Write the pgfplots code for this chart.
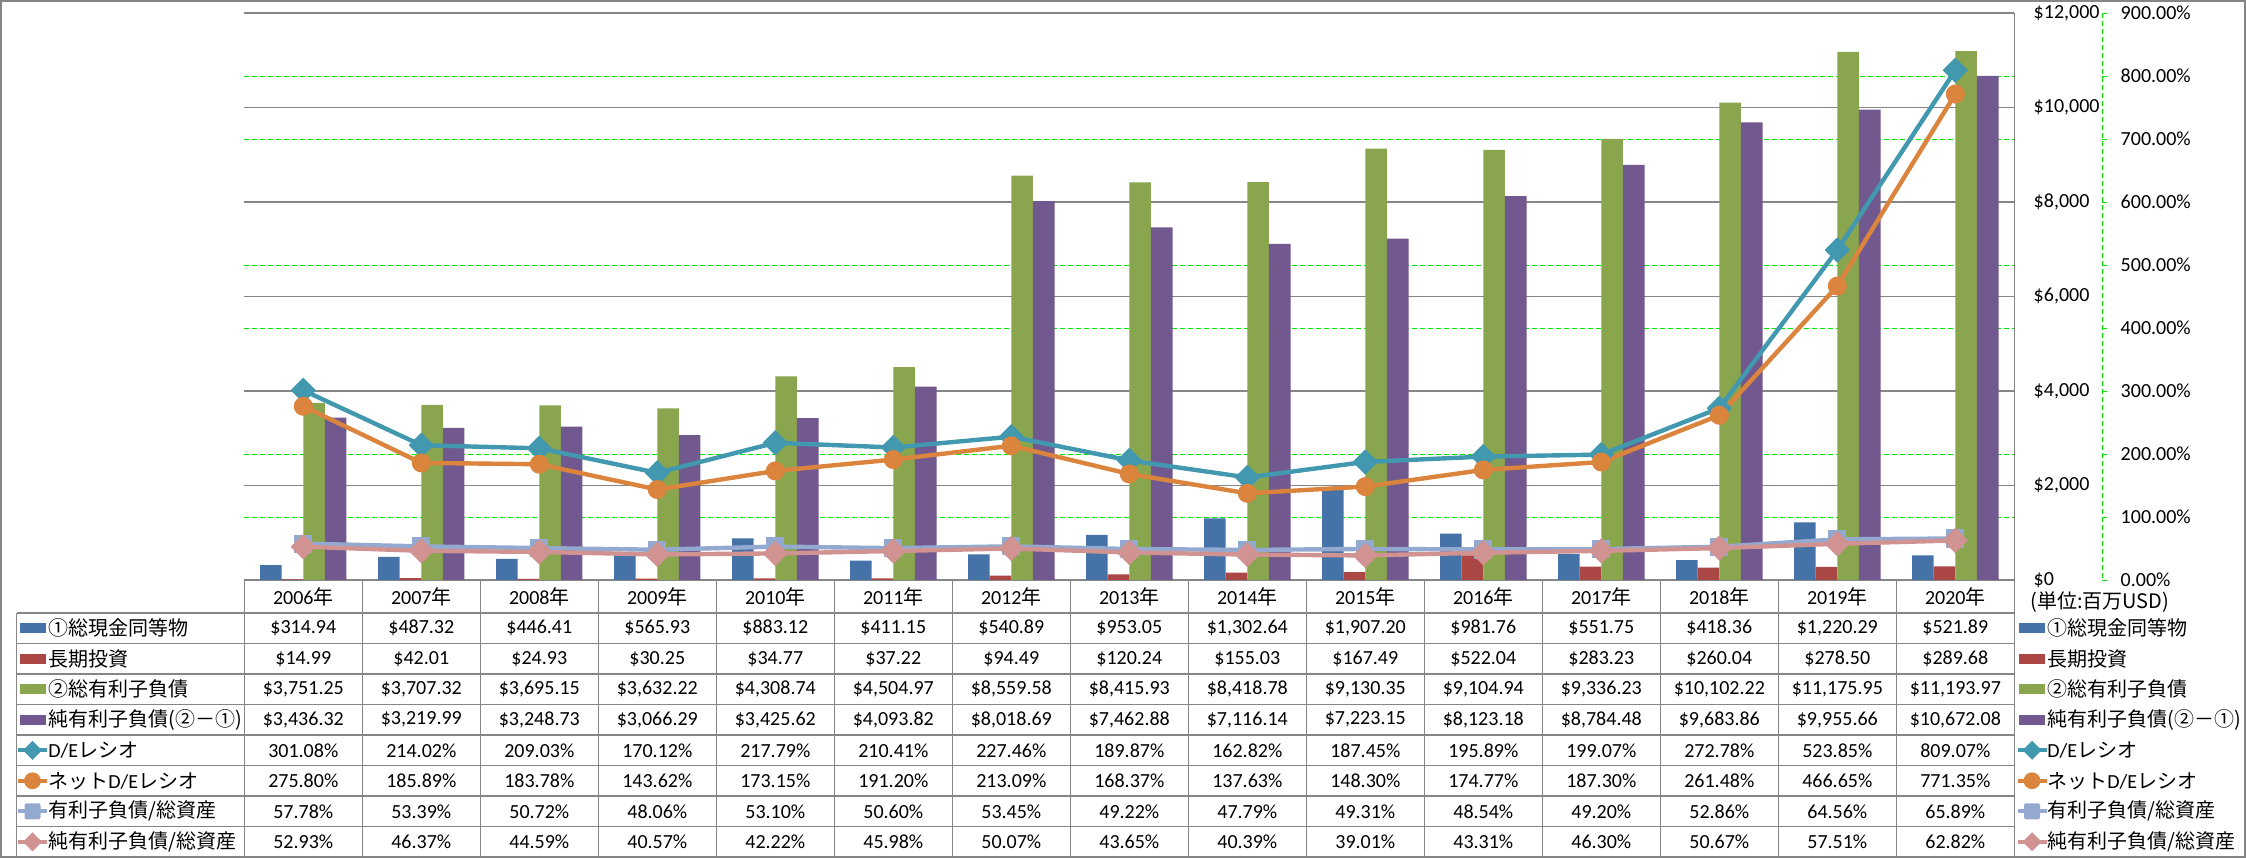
\documentclass[border=0pt]{standalone}
\usepackage{pgfplots}
\pgfplotsset{compat=1.18}
\usepackage{pgfplotstable}
\usepackage{fontspec}
\setmainfont{Carlito}
\newfontfamily\jp{Noto Sans CJK JP}

\definecolor{cBlue}{HTML}{4572A7}
\definecolor{cRed}{HTML}{AA4643}
\definecolor{cGreen}{HTML}{89A54E}
\definecolor{cPurple}{HTML}{71588F}
\definecolor{cTeal}{HTML}{4198AF}
\definecolor{cOrange}{HTML}{DB843D}
\definecolor{cLBlue}{HTML}{93A9CF}
\definecolor{cPink}{HTML}{D19392}
\definecolor{cGrid}{HTML}{868686}
\definecolor{cDash}{HTML}{00E600}

\pgfkeys{/pgf/number format/tbl/.style={fixed,fixed zerofill,precision=2,1000 sep={,},assume math mode=true}}

\pgfplotstableread{
x cash lti debt net de nde dta ndta
0 314.94 14.99 3751.25 3436.32 301.08 275.80 57.78 52.93
1 487.32 42.01 3707.32 3219.99 214.02 185.89 53.39 46.37
2 446.41 24.93 3695.15 3248.73 209.03 183.78 50.72 44.59
3 565.93 30.25 3632.22 3066.29 170.12 143.62 48.06 40.57
4 883.12 34.77 4308.74 3425.62 217.79 173.15 53.10 42.22
5 411.15 37.22 4504.97 4093.82 210.41 191.20 50.60 45.98
6 540.89 94.49 8559.58 8018.69 227.46 213.09 53.45 50.07
7 953.05 120.24 8415.93 7462.88 189.87 168.37 49.22 43.65
8 1302.64 155.03 8418.78 7116.14 162.82 137.63 47.79 40.39
9 1907.20 167.49 9130.35 7223.15 187.45 148.30 49.31 39.01
10 981.76 522.04 9104.94 8123.18 195.89 174.77 48.54 43.31
11 551.75 283.23 9336.23 8784.48 199.07 187.30 49.20 46.30
12 418.36 260.04 10102.22 9683.86 272.78 261.48 52.86 50.67
13 1220.29 278.50 11175.95 9955.66 523.85 466.65 64.56 57.51
14 521.89 289.68 11193.97 10672.08 809.07 771.35 65.89 62.82
}\datatable

% legend key macros (pixel units)
\newcommand{\keybar}[3]{\fill[#3] (#1,{#2-5}) rectangle ({#1+26},{#2+5});}
\newcommand{\keydia}[3]{\draw[#3, line width=2.2pt] ({#1-1},#2) -- ({#1+28},#2);
  \fill[#3] ({#1+13.5},#2) +(-9.5,0) -- +(0,-9.5) -- +(9.5,0) -- +(0,9.5) -- cycle;}
\newcommand{\keycirc}[3]{\draw[#3, line width=2.2pt] ({#1-1},#2) -- ({#1+28},#2);
  \fill[#3] ({#1+13.5},#2) circle[radius=4.2pt];}
\newcommand{\keysq}[3]{\draw[#3, line width=2.2pt] ({#1-1},#2) -- ({#1+28},#2);
  \fill[#3, rounded corners=1pt] ({#1+13.5-8},{#2-8}) rectangle ({#1+13.5+8},{#2+8});}

\begin{document}
\begin{tikzpicture}
\begin{scope}[x=0.5pt,y=-0.5pt]
\useasboundingbox (0,0) rectangle (2246,858);
\end{scope}

% ---------- bars (primary axis) ----------
\begin{axis}[
  at={(122.15pt,-290pt)}, anchor=south west,
  width=885pt, height=283.5pt, scale only axis,
  xmin=-0.5, xmax=14.5, ymin=0, ymax=12000,
  axis line style={draw=none},
  xtick=\empty,
  scaled y ticks=false,
  ytick={0,2000,4000,6000,8000,10000,12000},
  yticklabels={\$0,{\$2,000},{\$4,000},{\$6,000},{\$8,000},{\$10,000},{\$12,000}},
  yticklabel pos=right,
  yticklabel style={anchor=west, inner sep=0pt, xshift=9.5pt},
  major tick length=0pt,
  ymajorgrids,
  major grid style={cGrid, line width=0.6pt},
  extra y ticks={1333.333,2666.667,5333.333,6666.667,9333.333,10666.667},
  extra y tick labels={},
  extra y tick style={grid=major, major grid style={cDash, line width=0.5pt, dash pattern=on 2.5pt off 1.5pt}},
]
\addplot[ybar, bar width=0.183, bar shift=-0.2745, fill=cBlue, draw=none] table[x=x,y=cash]{\datatable};
\addplot[ybar, bar width=0.183, bar shift=-0.0915, fill=cRed, draw=none] table[x=x,y=lti]{\datatable};
\addplot[ybar, bar width=0.183, bar shift=0.0915, fill=cGreen, draw=none] table[x=x,y=debt]{\datatable};
\addplot[ybar, bar width=0.183, bar shift=0.2745, fill=cPurple, draw=none] table[x=x,y=net]{\datatable};
\end{axis}

% ---------- lines (secondary axis) ----------
\begin{axis}[
  at={(122.15pt,-290pt)}, anchor=south west,
  width=885pt, height=283.5pt, scale only axis,
  xmin=-0.5, xmax=14.5, ymin=0, ymax=900,
  axis line style={draw=none},
  xtick=\empty,
  scaled y ticks=false,
  ytick={0,100,...,900},
  yticklabels={0.00\%,100.00\%,200.00\%,300.00\%,400.00\%,500.00\%,600.00\%,700.00\%,800.00\%,900.00\%},
  yticklabel pos=right,
  yticklabel style={anchor=west, inner sep=0pt, xshift=53pt},
  major tick length=0pt,
  clip=false,
]
\addplot[cTeal, line width=2.2pt, line join=round, mark=square*, mark size=4.24pt,
  mark options={rotate=45, fill=cTeal, draw=cTeal, line width=0.5pt}] table[x=x,y=de]{\datatable};
\addplot[cOrange, line width=2.2pt, line join=round, mark=*, mark size=4.5pt,
  mark options={fill=cOrange, draw=cOrange, line width=0.5pt}] table[x=x,y=nde]{\datatable};
\addplot[cLBlue, line width=2.2pt, line join=round, mark=square*, mark size=4.3pt,
  mark options={fill=cLBlue, draw=cLBlue, line width=0.5pt}] table[x=x,y=dta]{\datatable};
\addplot[cPink, line width=2.2pt, line join=round, mark=square*, mark size=4.24pt,
  mark options={rotate=45, fill=cPink, draw=cPink, line width=0.5pt}] table[x=x,y=ndta]{\datatable};
\end{axis}

% ---------- table, legend, axis decorations (pixel units) ----------
\begin{scope}[x=0.5pt,y=-0.5pt]
% outer chart border
\draw[cGrid, line width=0.6pt] (1,1) rectangle (2245,857);
% right value axis line + last table column line
\draw[cGrid, line width=0.6pt] (2014.3,13) -- (2014.3,857);
% secondary axis line (green dashed) with ticks
\draw[cDash, line width=0.5pt, dash pattern=on 2.5pt off 1.5pt] (2102,13) -- (2102,580);
\foreach \k in {0,...,9} \draw[cDash, line width=0.5pt] (2102,{580-63*\k}) -- (2107,{580-63*\k});
% table lines
\draw[cGrid, line width=0.6pt] (244.3,580.7) -- (2014.3,580.7);
\foreach \i in {0,...,8} \draw[cGrid, line width=0.6pt] (16.7,{613+30.5*\i}) -- (2014.3,{613+30.5*\i});
\draw[cGrid, line width=0.6pt] (16.7,613) -- (16.7,857);
\foreach \k in {0,...,14} \draw[cGrid, line width=0.6pt] ({244.3+118*\k},580.7) -- ({244.3+118*\k},857);
% table cells
\foreach \c in {0,...,14}{
  \pgfmathsetmacro\cx{244.3+118*(\c+0.5)}
  \pgfmathtruncatemacro\yr{2006+\c}
  \node[inner sep=0pt] at (\cx,597) {\yr{\jp 年}};
  \foreach \col/\r in {cash/0,lti/1,debt/2,net/3}{
    \pgfplotstablegetelem{\c}{\col}\of\datatable
    \node[inner sep=0pt] at (\cx,{628.25+30.5*\r}) {\$\pgfmathprintnumber[tbl]{\pgfplotsretval}};
  }
  \foreach \col/\r in {de/4,nde/5,dta/6,ndta/7}{
    \pgfplotstablegetelem{\c}{\col}\of\datatable
    \node[inner sep=0pt] at (\cx,{628.25+30.5*\r}) {\pgfmathprintnumber[tbl]{\pgfplotsretval}\%};
  }
}
% row headers in table (keys + labels)
\keybar{20}{628.25}{cBlue}
\keybar{20}{658.75}{cRed}
\keybar{20}{689.25}{cGreen}
\keybar{20}{719.75}{cPurple}
\keydia{19}{750.25}{cTeal}
\keycirc{19}{780.75}{cOrange}
\keysq{19}{811.25}{cLBlue}
\keydia{19}{841.75}{cPink}
\node[anchor=west, inner sep=0pt] at (48,628.25) {\jp ①総現金同等物};
\node[anchor=west, inner sep=0pt] at (48,658.75) {\jp 長期投資};
\node[anchor=west, inner sep=0pt] at (48,689.25) {\jp ②総有利子負債};
\node[anchor=west, inner sep=0pt] at (48,719.75) {\jp 純有利子負債(②－①)};
\node[anchor=west, inner sep=0pt] at (48,750.25) {D/E{\jp レシオ}};
\node[anchor=west, inner sep=0pt] at (48,780.75) {{\jp ネット}D/E{\jp レシオ}};
\node[anchor=west, inner sep=0pt] at (48,811.25) {\jp 有利子負債/総資産};
\node[anchor=west, inner sep=0pt] at (48,841.75) {\jp 純有利子負債/総資産};
% right legend
\node[anchor=west, inner sep=0pt] at (2030,602) {\jp (単位:百万USD)};
\keybar{2019}{628.25}{cBlue}
\keybar{2019}{658.75}{cRed}
\keybar{2019}{689.25}{cGreen}
\keybar{2019}{719.75}{cPurple}
\keydia{2018.5}{750.25}{cTeal}
\keycirc{2018.5}{780.75}{cOrange}
\keysq{2018.5}{811.25}{cLBlue}
\keydia{2018.5}{841.75}{cPink}
\node[anchor=west, inner sep=0pt] at (2047,628.25) {\jp ①総現金同等物};
\node[anchor=west, inner sep=0pt] at (2047,658.75) {\jp 長期投資};
\node[anchor=west, inner sep=0pt] at (2047,689.25) {\jp ②総有利子負債};
\node[anchor=west, inner sep=0pt] at (2047,719.75) {\jp 純有利子負債(②－①)};
\node[anchor=west, inner sep=0pt] at (2047,750.25) {D/E{\jp レシオ}};
\node[anchor=west, inner sep=0pt] at (2047,780.75) {{\jp ネット}D/E{\jp レシオ}};
\node[anchor=west, inner sep=0pt] at (2047,811.25) {\jp 有利子負債/総資産};
\node[anchor=west, inner sep=0pt] at (2047,841.75) {\jp 純有利子負債/総資産};
\end{scope}
\end{tikzpicture}
\end{document}
